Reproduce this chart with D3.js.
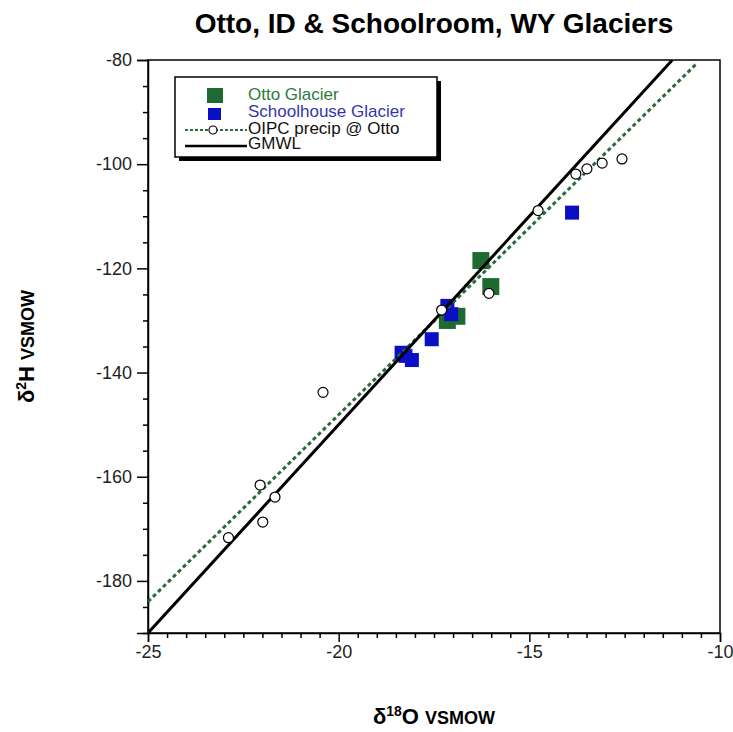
<!DOCTYPE html>
<html>
<head>
<meta charset="utf-8">
<script src="https://cdn.jsdelivr.net/npm/d3@7"></script>
<style>
  body { margin: 0; background: #fff; }
  text { font-family: "Liberation Sans", Arial, sans-serif; }
</style>
</head>
<body>
<div id="chart"></div>
<script>
// Data: [d18O, d2H]
let ottoGlacier = [[-16.27, -118.5], [-16.01, -123.5], [-16.90, -129.2], [-17.15, -130.0]];
let schoolhouseGlacier = [[-13.88, -109.3], [-17.15, -127.2], [-17.05, -128.8], [-17.56, -133.6],
                          [-18.35, -136.2], [-18.25, -136.8], [-18.08, -137.6]];
let oipcPrecip = [[-12.57, -99.0], [-13.09, -99.8], [-13.49, -100.9], [-13.78, -101.9], [-14.77, -108.9],
                  [-16.06, -124.8], [-17.30, -128.0], [-20.41, -143.8], [-22.06, -161.6], [-21.67, -163.9],
                  [-21.99, -168.7], [-22.89, -171.7]];
let oipcLine = [[-25, -184], [-10.6, -80.6]];
let gmwlLine = [[-25, -190], [-11.25, -80]];
let xTicks = [-25, -20, -15, -10];
let yTicks = [-80, -100, -120, -140, -160, -180];
let legendLabels = ["Otto Glacier", "Schoolhouse Glacier", "OIPC precip @ Otto", "GMWL"];

// Define SVG dimensions
let svgWidth = 733;
let svgHeight = 732;
let margin = { top: 60, right: 13, bottom: 99, left: 148 };
let chartWidth = svgWidth - margin.left - margin.right;
let chartHeight = svgHeight - margin.top - margin.bottom;

let green = "#1f6a30";
let blue = "#0a0fc6";

let svg = d3.select("#chart")
            .append("svg")
            .attr("width", svgWidth)
            .attr("height", svgHeight);
let chartGroup = svg.append("g")
                    .attr("transform", `translate(${margin.left}, ${margin.top})`);

// scales
let xScale = d3.scaleLinear().domain([-25, -10]).range([0, chartWidth]);
let yScale = d3.scaleLinear().domain([-190, -80]).range([chartHeight, 0]);

// clip for lines
svg.append("defs").append("clipPath").attr("id", "plotclip")
   .append("rect").attr("width", chartWidth).attr("height", chartHeight);

// frame
chartGroup.append("rect")
    .attr("width", chartWidth).attr("height", chartHeight)
    .attr("fill", "none").attr("stroke", "#000").attr("stroke-width", 1.5);

// minor ticks
let xMinor = d3.range(-25, -9.99, 0.5).filter(v => !xTicks.includes(v));
let yMinor = d3.range(-190, -79.99, 5).filter(v => !yTicks.includes(v));
chartGroup.append("g")
    .attr("transform", `translate(0, ${chartHeight})`)
    .call(d3.axisBottom(xScale).tickValues(xMinor).tickSize(5).tickFormat(""))
    .call(g => g.select(".domain").remove());
chartGroup.append("g")
    .call(d3.axisLeft(yScale).tickValues(yMinor).tickSize(5).tickFormat(""))
    .call(g => g.select(".domain").remove());

// major axes
let bottomAxis = d3.axisBottom(xScale).tickValues(xTicks).tickSize(9).tickPadding(3).tickFormat(d => String(d));
let leftAxis = d3.axisLeft(yScale).tickValues(yTicks).tickSize(11).tickPadding(5).tickFormat(d => String(d));
chartGroup.append("g")
    .attr("transform", `translate(0, ${chartHeight})`)
    .call(bottomAxis);
chartGroup.append("g")
    .call(leftAxis);
chartGroup.selectAll(".tick line").attr("stroke-width", 1.5);
chartGroup.selectAll(".domain").attr("stroke-width", 1.5);
chartGroup.selectAll(".tick text")
    .style("font-size", "18px")
    .attr("fill", "#222")
    .style("font-family", "'Liberation Sans', Arial, sans-serif");

// squares
function drawSquares(data, size, color) {
    chartGroup.append("g").selectAll("rect")
        .data(data)
        .enter()
        .append("rect")
        .attr("x", d => xScale(d[0]) - size / 2)
        .attr("y", d => yScale(d[1]) - size / 2)
        .attr("width", size)
        .attr("height", size)
        .attr("fill", color);
}
drawSquares(ottoGlacier, 17, green);
drawSquares(schoolhouseGlacier, 14, blue);

// lines
let line = d3.line().x(d => xScale(d[0])).y(d => yScale(d[1]));
let lineGroup = chartGroup.append("g").attr("clip-path", "url(#plotclip)");
lineGroup.append("path")
    .attr("d", line(oipcLine))
    .attr("fill", "none")
    .attr("stroke", "#2b6a3c")
    .attr("stroke-width", 3)
    .attr("stroke-dasharray", "4,3");
lineGroup.append("path")
    .attr("d", line(gmwlLine))
    .attr("fill", "none")
    .attr("stroke", "#000")
    .attr("stroke-width", 3);

// open circles
chartGroup.append("g").selectAll("circle")
    .data(oipcPrecip)
    .enter()
    .append("circle")
    .attr("cx", d => xScale(d[0]))
    .attr("cy", d => yScale(d[1]))
    .attr("r", 5)
    .attr("fill", "#fff")
    .attr("stroke", "#000")
    .attr("stroke-width", 1.2);

// title
svg.append("text")
    .attr("x", margin.left + chartWidth / 2)
    .attr("y", 33)
    .attr("text-anchor", "middle")
    .attr("font-weight", "bold")
    .style("font-size", "28px")
    .text("Otto, ID & Schoolroom, WY Glaciers");

// axis titles
let xTitle = svg.append("text")
    .attr("x", margin.left + chartWidth / 2)
    .attr("y", 724)
    .attr("text-anchor", "middle")
    .attr("font-weight", "bold")
    .style("font-size", "22px");
xTitle.append("tspan").text("δ");
xTitle.append("tspan").attr("dy", -8).style("font-size", "14px").text("18");
xTitle.append("tspan").attr("dy", 8).text("O ");
xTitle.append("tspan").style("font-size", "18px").text("VSMOW");

let yTitle = svg.append("text")
    .attr("transform", `translate(34, ${margin.top + chartHeight / 2}) rotate(-90)`)
    .attr("text-anchor", "middle")
    .attr("font-weight", "bold")
    .style("font-size", "22px");
yTitle.append("tspan").text("δ");
yTitle.append("tspan").attr("dy", -8).style("font-size", "14px").text("2");
yTitle.append("tspan").attr("dy", 8).text("H ");
yTitle.append("tspan").style("font-size", "18px").text("VSMOW");

// legend
let legend = svg.append("g").attr("transform", "translate(175, 77)");
legend.append("rect")
    .attr("x", 4).attr("y", 4).attr("width", 262).attr("height", 80)
    .attr("fill", "#000");
legend.append("rect")
    .attr("width", 262).attr("height", 80)
    .attr("fill", "#fff").attr("stroke", "#000").attr("stroke-width", 1.5);
let rowY = [17, 34, 51, 66];
let textColors = ["#2e7a3c", "#3535b0", "#111", "#111"];
legend.append("rect").attr("x", 32).attr("y", rowY[0] - 6).attr("width", 16).attr("height", 15).attr("fill", green);
legend.append("rect").attr("x", 33).attr("y", rowY[1] - 3).attr("width", 13).attr("height", 12).attr("fill", blue);
legend.append("line").attr("x1", 10).attr("x2", 72).attr("y1", rowY[2] + 2).attr("y2", rowY[2] + 2)
    .attr("stroke", "#2b6a3c").attr("stroke-width", 2).attr("stroke-dasharray", "3,2");
legend.append("circle").attr("cx", 38).attr("cy", rowY[2] + 2).attr("r", 4)
    .attr("fill", "#fff").attr("stroke", "#000").attr("stroke-width", 1.2);
legend.append("line").attr("x1", 10).attr("x2", 72).attr("y1", rowY[3] + 3).attr("y2", rowY[3] + 3)
    .attr("stroke", "#000").attr("stroke-width", 2.5);
legend.selectAll("text.lbl")
    .data(legendLabels)
    .enter()
    .append("text")
    .attr("class", "lbl")
    .attr("x", 73)
    .attr("y", (d, i) => rowY[i] + 6)
    .attr("fill", (d, i) => textColors[i])
    .style("font-size", "17px")
    .text(d => d);
</script>
</body>
</html>
